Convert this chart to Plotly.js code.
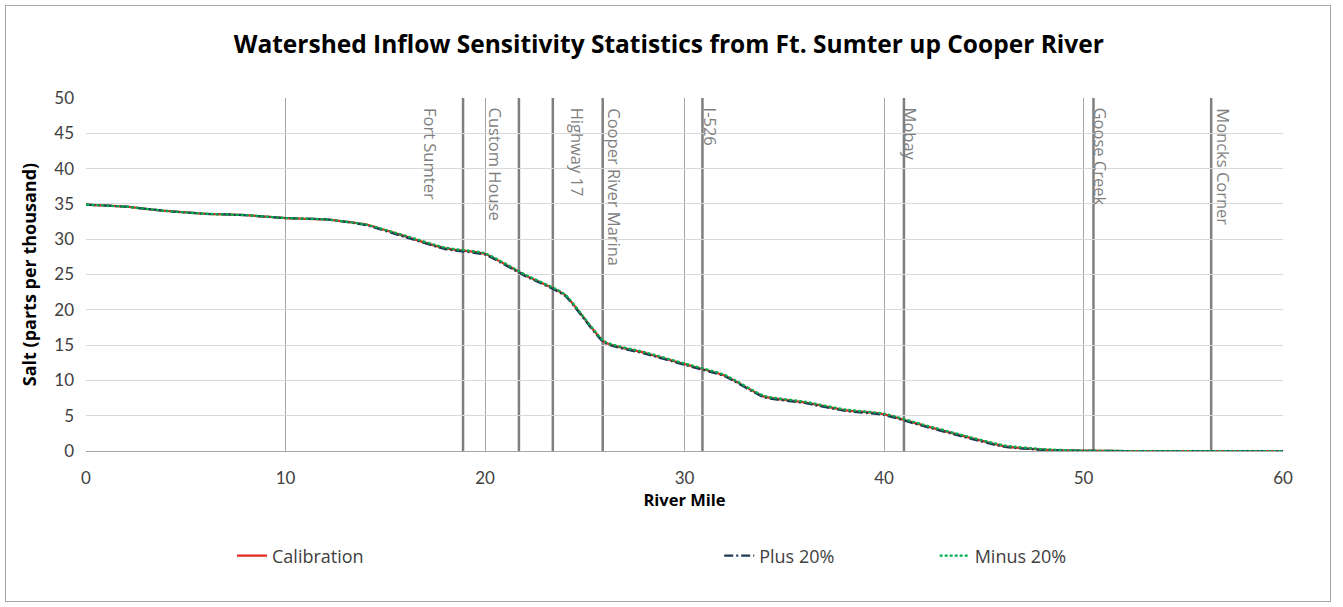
<!DOCTYPE html>
<html>
<head>
<meta charset="utf-8">
<script src="https://cdn.plot.ly/plotly-3.0.1.min.js"></script>
<style>
  html, body { margin: 0; padding: 0; background: #ffffff; }
  #chart { position: absolute; left: 0; top: 0; width: 1343px; height: 607px; }
  #frame { position: absolute; left: 5px; top: 5px; width: 1326px; height: 597px;
           border: 1px solid #a6a6a6; pointer-events: none; box-sizing: border-box; }
</style>
</head>
<body>
<div id="chart"></div>
<div id="frame"></div>
<script>
// ---- data ----
const riverMile = [0, 2, 4, 6, 8, 10, 12, 14, 16, 18, 20, 22, 24, 26, 28, 30, 32, 34, 36, 38, 40, 42, 44, 46, 48, 50, 52, 54, 56, 58, 60];
const calibration = [34.9, 34.6, 34.0, 33.6, 33.4, 33.0, 32.8, 32.1, 30.4, 28.7, 27.9, 24.9, 22.1, 15.4, 13.9, 12.3, 10.7, 7.7, 6.9, 5.8, 5.2, 3.6, 2.1, 0.7, 0.2, 0.05, 0, 0, 0, 0, 0];
const plus20 = [34.9, 34.6, 34.0, 33.6, 33.4, 33.0, 32.8, 32.0, 30.3, 28.6, 27.8, 24.8, 22.0, 15.3, 13.8, 12.2, 10.6, 7.6, 6.8, 5.7, 5.1, 3.5, 2.0, 0.6, 0.15, 0.03, 0, 0, 0, 0, 0];
const minus20 = [34.9, 34.6, 34.0, 33.6, 33.4, 33.0, 32.8, 32.1, 30.5, 28.8, 28.0, 25.0, 22.2, 15.5, 14.0, 12.4, 10.8, 7.8, 7.0, 5.9, 5.3, 3.7, 2.2, 0.8, 0.25, 0.06, 0, 0, 0, 0, 0];
const seriesNames = ['Calibration', 'Plus 20%', 'Minus 20%'];

const stationNames = ['Fort Sumter', 'Custom House', 'Highway 17', 'Cooper River Marina', 'I-526', 'Mobay', 'Goose Creek', 'Moncks Corner'];
const stationMiles = [18.9, 21.7, 23.4, 25.9, 30.9, 41.0, 50.5, 56.4];
const xTickVals = [0, 10, 20, 30, 40, 50, 60];
const yTickVals = [0, 5, 10, 15, 20, 25, 30, 35, 40, 45, 50];

// ---- styles (not data) ----
const labelShift = [-32, -23, 25, 12, 9, 7, 8, 12];
const FONT = 'Lato, "Open Sans", sans-serif';
const WIDE = '"Open Sans", Lato, sans-serif';

const traces = [
  { x: riverMile, y: calibration, name: seriesNames[0], mode: 'lines', legend: 'legend',
    line: { color: '#e0281c', width: 2.25, shape: 'spline', smoothing: 0.5 } },
  { x: riverMile, y: plus20, name: seriesNames[1], mode: 'lines', legend: 'legend2',
    line: { color: '#1f3b57', width: 2.25, dash: '9px,3px,2px,3px', shape: 'spline', smoothing: 0.5 } },
  { x: riverMile, y: minus20, name: seriesNames[2], mode: 'lines', legend: 'legend3',
    line: { color: '#00b050', width: 2.25, dash: '3px,2px', shape: 'spline', smoothing: 0.5 } }
];

const shapes = stationMiles.map(m => ({
  type: 'line', xref: 'x', yref: 'paper', x0: m, x1: m, y0: 0, y1: 1,
  line: { color: '#7f7f7f', width: 2.5 }, layer: 'below'
}));

const annotations = stationNames.map((n, i) => ({
  text: n, x: stationMiles[i], xref: 'x', y: 1, yref: 'paper',
  xanchor: 'center', yanchor: 'top', xshift: labelShift[i], yshift: -8,
  textangle: 90, showarrow: false,
  font: { family: WIDE, size: 16.5, color: '#7f7f7f' }
}));

const legendBase = {
  orientation: 'h', xref: 'paper', yref: 'paper', yanchor: 'middle', xanchor: 'left',
  y: -0.297, bgcolor: 'rgba(0,0,0,0)', font: { family: WIDE, size: 18, color: '#404040' }
};

const layout = {
  width: 1343, height: 607,
  paper_bgcolor: '#ffffff', plot_bgcolor: '#ffffff',
  margin: { l: 86, r: 60, t: 98, b: 156 },
  title: {
    text: 'Watershed Inflow Sensitivity Statistics from Ft. Sumter up Cooper River',
    xref: 'container', x: 0.498, xanchor: 'center',
    yref: 'container', y: 0.926, yanchor: 'middle',
    font: { family: WIDE, size: 24.5, color: '#000000', weight: 'bold' }
  },
  xaxis: {
    range: [0, 60], tickvals: xTickVals, ticktext: xTickVals.map(String),
    showgrid: true, gridcolor: '#a6a6a6', gridwidth: 1,
    showline: true, linecolor: '#a6a6a6', linewidth: 1, zeroline: false, ticks: '',
    ticklabelstandoff: 12,
    tickfont: { family: FONT, size: 17, color: '#404040' },
    title: { text: 'River Mile', standoff: 4, font: { family: WIDE, size: 16.5, color: '#000000', weight: 'bold' } }
  },
  yaxis: {
    range: [0, 50], tickvals: yTickVals, ticktext: yTickVals.map(String),
    showgrid: true, gridcolor: '#d9d9d9', gridwidth: 1,
    showline: false, zeroline: false, ticks: '', ticklabelstandoff: 11,
    tickfont: { family: FONT, size: 17, color: '#404040' },
    title: { text: 'Salt (parts per thousand)', standoff: 12, font: { family: WIDE, size: 18, color: '#000000', weight: 'bold' } }
  },
  shapes: shapes,
  annotations: annotations,
  showlegend: true,
  legend: Object.assign({}, legendBase, { x: 0.122 }),
  legend2: Object.assign({}, legendBase, { x: 0.529 }),
  legend3: Object.assign({}, legendBase, { x: 0.709 })
};

Plotly.newPlot('chart', traces, layout, { displayModeBar: false, staticPlot: true });
</script>
</body>
</html>
